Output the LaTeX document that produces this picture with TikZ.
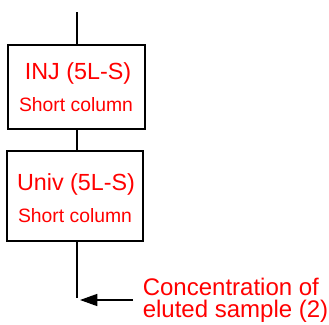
\documentclass[tikz,border=0pt]{standalone}
\usepackage{fontspec}
\setmainfont{Liberation Sans}
\usetikzlibrary{arrows.meta}

\begin{document}
\begin{tikzpicture}[x=0.75pt, y=-0.75pt, line width=1.2pt, >={Triangle[length=13pt,width=9pt]},
  column/.style={draw, rectangle, inner sep=0pt},
  bigtext/.style={text=red, font=\fontsize{17.5}{20}\selectfont, anchor=base},
  smalltext/.style={text=red, font=\fontsize{14.5}{16}\selectfont, anchor=base},
  notetext/.style={text=red, font=\fontsize{18}{22}\selectfont, anchor=base west, inner sep=0pt}]

\useasboundingbox (0,0) rectangle (329,325);

% columns
\node[column, minimum width=102.75pt, minimum height=63pt] (inj) at (76.5,87) {};
\node[column, minimum width=102pt, minimum height=67.5pt] (univ) at (75,196) {};

\node[bigtext] (injname) at (78,79) {INJ (5L-S)};
\node[smalltext] (injsub) at (76,111) {Short column};
\node[bigtext] (univname) at (76,190) {Univ (5L-S)};
\node[smalltext] (univsub) at (75,222) {Short column};

% flow line
\coordinate (inlet) at (77,12);
\coordinate (outlet) at (77,298);
\draw (inlet) -- (inlet |- inj.north) ;
\draw (inlet |- inj.south) -- (inlet |- univ.north) ;
\draw (inlet |- univ.south) -- (outlet) ;

% detection point
\coordinate (tail) at (133,300);
\coordinate (tip) at (80,300);
\draw[->] (tail) -- (tip) ;
\node[notetext] (conc) at (142,295) {Concentration of};
\node[notetext] (eluted) at (142,317) {eluted sample (2)};

\end{tikzpicture}
\end{document}
